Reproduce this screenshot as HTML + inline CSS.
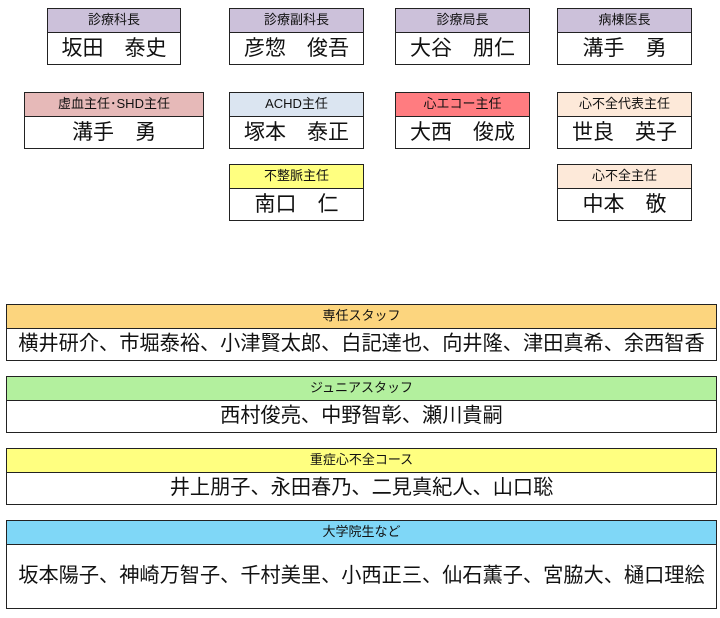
<!DOCTYPE html><html><head><meta charset="utf-8"><style>
body{margin:0;width:720px;height:618px;background:#fff;position:relative;font-family:"Liberation Sans","Noto Sans CJK JP",sans-serif;}
.b{position:absolute;border:1.5px solid #222;box-sizing:border-box;background:#fff;}
.h{border-bottom:1.5px solid #222;text-align:center;font-size:13px;line-height:22px;height:23px;color:#111;}
.n{text-align:center;font-size:21px;line-height:31px;color:#111;}
.s{text-align:center;font-size:20.2px;color:#111;white-space:nowrap;}
</style></head><body>
<div class="b" style="left:47px;top:8px;width:134px;height:57px"><div class="h" style="background:#ccc1da">診療科長</div><div class="n">坂田　泰史</div></div>
<div class="b" style="left:229px;top:8px;width:135px;height:57px"><div class="h" style="background:#ccc1da">診療副科長</div><div class="n">彦惣　俊吾</div></div>
<div class="b" style="left:395px;top:8px;width:135px;height:57px"><div class="h" style="background:#ccc1da">診療局長</div><div class="n">大谷　朋仁</div></div>
<div class="b" style="left:557px;top:8px;width:135px;height:57px"><div class="h" style="background:#ccc1da">病棟医長</div><div class="n">溝手　勇</div></div>
<div class="b" style="left:24px;top:92px;width:180px;height:57px"><div class="h" style="background:#e6b9b8">虚血主任･SHD主任</div><div class="n">溝手　勇</div></div>
<div class="b" style="left:229px;top:92px;width:135px;height:57px"><div class="h" style="background:#dbe5f1">ACHD主任</div><div class="n">塚本　泰正</div></div>
<div class="b" style="left:395px;top:92px;width:135px;height:57px"><div class="h" style="background:#ff7c80">心エコー主任</div><div class="n">大西　俊成</div></div>
<div class="b" style="left:557px;top:92px;width:135px;height:57px"><div class="h" style="background:#fde9d9">心不全代表主任</div><div class="n">世良　英子</div></div>
<div class="b" style="left:229px;top:164px;width:135px;height:57px"><div class="h" style="background:#ffff80">不整脈主任</div><div class="n">南口　仁</div></div>
<div class="b" style="left:557px;top:164px;width:135px;height:57px"><div class="h" style="background:#fde9d9">心不全主任</div><div class="n">中本　敬</div></div>
<div class="b" style="left:6px;top:304px;width:711px;height:57px"><div class="h" style="background:#fcd57e">専任スタッフ</div><div class="s" style="line-height:31px">横井研介、市堀泰裕、小津賢太郎、白記達也、向井隆、津田真希、余西智香</div></div>
<div class="b" style="left:6px;top:376px;width:711px;height:57px"><div class="h" style="background:#b3f09e">ジュニアスタッフ</div><div class="s" style="line-height:31px">西村俊亮、中野智彰、瀬川貴嗣</div></div>
<div class="b" style="left:6px;top:448px;width:711px;height:57px"><div class="h" style="background:#ffff80">重症心不全コース</div><div class="s" style="line-height:31px">井上朋子、永田春乃、二見真紀人、山口聡</div></div>
<div class="b" style="left:6px;top:520px;width:711px;height:89px"><div class="h" style="background:#7fd7f7">大学院生など</div><div class="s" style="line-height:63px">坂本陽子、神崎万智子、千村美里、小西正三、仙石薫子、宮脇大、樋口理絵</div></div>
</body></html>
